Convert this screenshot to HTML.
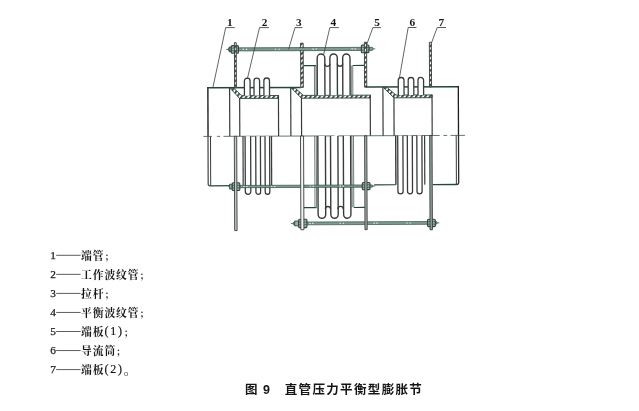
<!DOCTYPE html>
<html lang="zh"><head><meta charset="utf-8"><title>图 9 直管压力平衡型膨胀节</title>
<style>
html,body{margin:0;padding:0;background:#fff;}
body{width:639px;height:411px;overflow:hidden;position:relative;}
svg{position:absolute;left:0;top:0;display:block;will-change:transform;}
text{fill:#151515;}
.n{font-family:"Liberation Serif","Noto Serif CJK SC",serif;font-size:9.6px;font-weight:bold;}
.l{font-family:"Liberation Serif","Noto Serif CJK SC",serif;font-size:11px;}
.d{font-size:11.3px;stroke:#222;stroke-width:0.25px;}
.c{font-family:"Liberation Serif","Noto Serif CJK SC",serif;font-weight:700;font-size:10.8px;letter-spacing:0.9px;}
.p{font-weight:normal;stroke:#222;stroke-width:0.2px;font-size:12px;letter-spacing:1.8px;}
.s{font-size:9px;}
.o{font-size:13px;}
.cap{font-family:"Liberation Sans","Noto Sans CJK SC",sans-serif;font-size:12.5px;font-weight:bold;letter-spacing:1px;}
</style></head><body>
<svg width="639" height="411" viewBox="0 0 639 411"><defs>
<pattern id="hv" width="4" height="4" patternUnits="userSpaceOnUse" patternTransform="rotate(-35)">
<rect width="4" height="4" fill="#fff"/><rect width="4" height="2.1" fill="#3a4d47"/></pattern>
<pattern id="hh" width="4.6" height="4" patternUnits="userSpaceOnUse" patternTransform="skewX(-35)">
<rect width="4.6" height="4" fill="#fff"/><rect width="2.3" height="4" fill="#3a4d47"/></pattern>
</defs><g transform="rotate(-0.233 333 135.9)">
<line x1="203.30" y1="135.90" x2="212.00" y2="135.90" stroke="#4a5f58" stroke-width="0.85" />
<line x1="216.90" y1="135.90" x2="220.20" y2="135.90" stroke="#4a5f58" stroke-width="0.85" />
<line x1="223.50" y1="135.90" x2="334.50" y2="135.90" stroke="#4a5f58" stroke-width="0.85" />
<line x1="338.00" y1="135.90" x2="439.70" y2="135.90" stroke="#4a5f58" stroke-width="0.85" />
<line x1="443.50" y1="135.90" x2="447.20" y2="135.90" stroke="#4a5f58" stroke-width="0.85" />
<line x1="450.50" y1="135.90" x2="465.00" y2="135.90" stroke="#4a5f58" stroke-width="0.85" />
<line x1="207.40" y1="87.25" x2="301.00" y2="87.25" stroke="#23473e" stroke-width="1.5" />
<line x1="366.00" y1="87.25" x2="459.10" y2="87.25" stroke="#23473e" stroke-width="1.5" />
<line x1="208.05" y1="86.50" x2="208.05" y2="135.90" stroke="#383b3c" stroke-width="1.6" />
<line x1="458.50" y1="86.50" x2="458.50" y2="135.90" stroke="#1c1d1f" stroke-width="1.3" />
<line x1="229.80" y1="87.25" x2="229.80" y2="135.90" stroke="#383b3c" stroke-width="1.2" />
<path d="M230.40,87.85 L234.20,87.85 L241.80,95.30 L278.60,95.30 L278.60,98.10 L239.80,98.10 Z" stroke="#2e453e" stroke-width="0.9" fill="url(#hh)" />
<line x1="239.80" y1="97.60" x2="239.80" y2="135.90" stroke="#383b3c" stroke-width="1.2" />
<line x1="278.60" y1="95.00" x2="278.60" y2="135.90" stroke="#383b3c" stroke-width="1.2" />
<line x1="290.90" y1="87.25" x2="290.90" y2="135.90" stroke="#383b3c" stroke-width="1.2" />
<path d="M291.50,87.85 L295.30,87.85 L303.60,95.30 L370.40,95.30 L370.40,98.10 L301.60,98.10 Z" stroke="#2e453e" stroke-width="0.9" fill="url(#hh)" />
<line x1="301.60" y1="97.60" x2="301.60" y2="135.90" stroke="#383b3c" stroke-width="1.2" />
<line x1="370.40" y1="95.00" x2="370.40" y2="135.90" stroke="#383b3c" stroke-width="1.2" />
<line x1="383.10" y1="87.25" x2="383.10" y2="135.90" stroke="#383b3c" stroke-width="1.2" />
<path d="M383.70,87.85 L387.50,87.85 L396.10,95.30 L432.20,95.30 L432.20,98.10 L394.10,98.10 Z" stroke="#2e453e" stroke-width="0.9" fill="url(#hh)" />
<line x1="394.10" y1="97.60" x2="394.10" y2="135.90" stroke="#383b3c" stroke-width="1.2" />
<line x1="432.20" y1="95.00" x2="432.20" y2="135.90" stroke="#383b3c" stroke-width="1.2" />
<path d="M244.60,95.30 L244.60,80.60 A2.85,2.85 0 0 1 250.30,80.60 L250.30,95.30" stroke="#383b3c" stroke-width="1.3" fill="#fff" />
<path d="M254.20,95.30 L254.20,80.55 A2.80,2.80 0 0 1 259.80,80.55 L259.80,95.30" stroke="#383b3c" stroke-width="1.3" fill="#fff" />
<path d="M264.10,95.30 L264.10,80.55 A2.80,2.80 0 0 1 269.70,80.55 L269.70,95.30" stroke="#383b3c" stroke-width="1.3" fill="#fff" />
<path d="M398.50,95.30 L398.50,80.65 A2.85,2.85 0 0 1 404.20,80.65 L404.20,95.30" stroke="#383b3c" stroke-width="1.3" fill="#fff" />
<path d="M408.40,95.30 L408.40,80.60 A2.80,2.80 0 0 1 414.00,80.60 L414.00,95.30" stroke="#383b3c" stroke-width="1.3" fill="#fff" />
<path d="M418.20,95.30 L418.20,80.60 A2.80,2.80 0 0 1 423.80,80.60 L423.80,95.30" stroke="#383b3c" stroke-width="1.3" fill="#fff" />
<line x1="303.60" y1="65.60" x2="316.30" y2="65.60" stroke="#23473e" stroke-width="1.2" />
<line x1="353.00" y1="65.60" x2="364.60" y2="65.60" stroke="#23473e" stroke-width="1.2" />
<line x1="314.70" y1="65.60" x2="314.70" y2="95.20" stroke="#4a5f58" stroke-width="0.8" />
<line x1="316.20" y1="65.60" x2="316.20" y2="95.20" stroke="#4a5f58" stroke-width="0.8" />
<line x1="351.50" y1="65.60" x2="351.50" y2="95.20" stroke="#4a5f58" stroke-width="0.8" />
<line x1="353.00" y1="65.60" x2="353.00" y2="95.20" stroke="#4a5f58" stroke-width="0.8" />
<path d="M317.50,95.30 L317.50,57.80 A3.80,3.80 0 0 1 325.10,57.80 L325.10,95.30" stroke="#383b3c" stroke-width="1.4" fill="#fff" />
<path d="M330.20,95.30 L330.20,57.70 A3.70,3.70 0 0 1 337.60,57.70 L337.60,95.30" stroke="#383b3c" stroke-width="1.4" fill="#fff" />
<path d="M343.00,95.30 L343.00,57.65 A3.65,3.65 0 0 1 350.30,57.65 L350.30,95.30" stroke="#383b3c" stroke-width="1.4" fill="#fff" />
<path d="M325.10,63.75 A2.55,2.55 0 0 0 330.20,63.75" stroke="#383b3c" stroke-width="1.3" fill="none" />
<path d="M337.60,63.60 A2.70,2.70 0 0 0 343.00,63.60" stroke="#383b3c" stroke-width="1.3" fill="none" />
<path d="M208.0,135.9 L208.0,183.2 Q208.0,185.3 209.8,185.3" stroke="#4c5052" stroke-width="1.3" fill="none" />
<line x1="209.80" y1="185.30" x2="234.30" y2="185.30" stroke="#23473e" stroke-width="1.3" />
<line x1="210.50" y1="135.90" x2="210.50" y2="185.00" stroke="#383b3c" stroke-width="1.0" />
<path d="M458.5,135.9 L458.5,183.2 Q458.5,185.0 456.7,185.0" stroke="#2a2c2e" stroke-width="1.3" fill="none" />
<line x1="456.70" y1="185.00" x2="432.70" y2="185.00" stroke="#23473e" stroke-width="1.3" />
<line x1="456.20" y1="135.90" x2="456.20" y2="185.00" stroke="#383b3c" stroke-width="1.0" />
<line x1="374.00" y1="185.00" x2="395.70" y2="185.00" stroke="#23473e" stroke-width="1.2" />
<line x1="243.00" y1="135.90" x2="243.00" y2="185.00" stroke="#383b3c" stroke-width="1.2" />
<line x1="271.50" y1="135.90" x2="271.50" y2="185.00" stroke="#383b3c" stroke-width="1.2" />
<path d="M245.10,135.90 L245.10,191.25 A2.75,2.75 0 0 0 250.60,191.25 L250.60,135.90" stroke="#383b3c" stroke-width="1.3" fill="#fff" />
<path d="M255.70,135.90 L255.70,191.65 A2.35,2.35 0 0 0 260.40,191.65 L260.40,135.90" stroke="#383b3c" stroke-width="1.3" fill="#fff" />
<path d="M265.00,135.90 L265.00,191.70 A2.30,2.30 0 0 0 269.60,191.70 L269.60,135.90" stroke="#383b3c" stroke-width="1.3" fill="#fff" />
<line x1="395.70" y1="135.90" x2="395.70" y2="185.00" stroke="#383b3c" stroke-width="1.4" />
<line x1="424.60" y1="135.90" x2="424.60" y2="185.00" stroke="#383b3c" stroke-width="1.2" />
<path d="M397.70,135.90 L397.70,191.50 A2.60,2.60 0 0 0 402.90,191.50 L402.90,135.90" stroke="#383b3c" stroke-width="1.3" fill="#fff" />
<path d="M407.30,135.90 L407.30,191.60 A2.50,2.50 0 0 0 412.30,191.60 L412.30,135.90" stroke="#383b3c" stroke-width="1.3" fill="#fff" />
<path d="M416.80,135.90 L416.80,191.55 A2.55,2.55 0 0 0 421.90,191.55 L421.90,135.90" stroke="#383b3c" stroke-width="1.3" fill="#fff" />
<line x1="303.20" y1="207.60" x2="316.30" y2="207.60" stroke="#23473e" stroke-width="1.2" />
<line x1="353.50" y1="207.60" x2="364.60" y2="207.60" stroke="#23473e" stroke-width="1.2" />
<line x1="314.70" y1="135.90" x2="314.70" y2="207.30" stroke="#4a5f58" stroke-width="0.8" />
<line x1="316.30" y1="135.90" x2="316.30" y2="207.30" stroke="#4a5f58" stroke-width="0.8" />
<line x1="351.90" y1="135.90" x2="351.90" y2="207.30" stroke="#4a5f58" stroke-width="0.8" />
<line x1="353.50" y1="135.90" x2="353.50" y2="207.30" stroke="#4a5f58" stroke-width="0.8" />
<path d="M317.80,135.90 L317.80,214.45 A3.80,3.80 0 0 0 325.40,214.45 L325.40,135.90" stroke="#383b3c" stroke-width="1.4" fill="#fff" />
<path d="M330.50,135.90 L330.50,214.55 A3.70,3.70 0 0 0 337.90,214.55 L337.90,135.90" stroke="#383b3c" stroke-width="1.4" fill="#fff" />
<path d="M343.30,135.90 L343.30,214.60 A3.65,3.65 0 0 0 350.60,214.60 L350.60,135.90" stroke="#383b3c" stroke-width="1.4" fill="#fff" />
<path d="M325.10,209.05 A2.55,2.55 0 0 1 330.20,209.05" stroke="#383b3c" stroke-width="1.3" fill="none" />
<path d="M337.60,209.20 A2.70,2.70 0 0 1 343.00,209.20" stroke="#383b3c" stroke-width="1.3" fill="none" />
<line x1="226.40" y1="49.00" x2="375.60" y2="49.00" stroke="#4a5f58" stroke-width="0.8" />
<rect x="228.60" y="47.45" width="144.80" height="3.10" stroke="#23473e" stroke-width="0.65" fill="#82998f" rx="1.2"/>
<rect x="242.90" y="48.45" width="1.3" height="1.1" fill="#e8efec"/>
<rect x="246.20" y="48.45" width="1.3" height="1.1" fill="#e8efec"/>
<rect x="275.20" y="48.45" width="1.3" height="1.1" fill="#e8efec"/>
<rect x="278.90" y="48.45" width="1.3" height="1.1" fill="#e8efec"/>
<rect x="312.90" y="48.45" width="1.3" height="1.1" fill="#e8efec"/>
<rect x="315.90" y="48.45" width="1.3" height="1.1" fill="#e8efec"/>
<rect x="351.90" y="48.45" width="1.3" height="1.1" fill="#e8efec"/>
<rect x="354.90" y="48.45" width="1.3" height="1.1" fill="#e8efec"/>
<line x1="228.20" y1="186.20" x2="375.00" y2="186.20" stroke="#4a5f58" stroke-width="0.8" />
<rect x="230.40" y="185.05" width="142.40" height="2.30" stroke="#23473e" stroke-width="0.65" fill="#82998f" rx="1.2"/>
<rect x="243.20" y="185.65" width="1.3" height="1.1" fill="#e8efec"/>
<rect x="246.20" y="185.65" width="1.3" height="1.1" fill="#e8efec"/>
<rect x="270.90" y="185.65" width="1.3" height="1.1" fill="#e8efec"/>
<rect x="273.90" y="185.65" width="1.3" height="1.1" fill="#e8efec"/>
<rect x="309.40" y="185.65" width="1.3" height="1.1" fill="#e8efec"/>
<rect x="312.40" y="185.65" width="1.3" height="1.1" fill="#e8efec"/>
<rect x="339.40" y="185.65" width="1.3" height="1.1" fill="#e8efec"/>
<rect x="342.40" y="185.65" width="1.3" height="1.1" fill="#e8efec"/>
<line x1="290.60" y1="223.30" x2="439.00" y2="223.30" stroke="#4a5f58" stroke-width="0.8" />
<rect x="292.80" y="221.90" width="144.00" height="2.80" stroke="#23473e" stroke-width="0.65" fill="#82998f" rx="1.2"/>
<rect x="309.00" y="222.75" width="1.3" height="1.1" fill="#e8efec"/>
<rect x="311.80" y="222.75" width="1.3" height="1.1" fill="#e8efec"/>
<rect x="339.20" y="222.75" width="1.3" height="1.1" fill="#e8efec"/>
<rect x="342.40" y="222.75" width="1.3" height="1.1" fill="#e8efec"/>
<rect x="373.20" y="222.75" width="1.3" height="1.1" fill="#e8efec"/>
<rect x="376.00" y="222.75" width="1.3" height="1.1" fill="#e8efec"/>
<rect x="406.00" y="222.75" width="1.3" height="1.1" fill="#e8efec"/>
<rect x="409.20" y="222.75" width="1.3" height="1.1" fill="#e8efec"/>
<rect x="229.60" y="46.60" width="2.00" height="4.80" stroke="#2e453e" stroke-width="0.9" fill="#9fb2aa" />
<rect x="231.60" y="45.20" width="7.20" height="7.60" stroke="#2e453e" stroke-width="1.1" fill="#9fb2aa" rx="1"/>
<line x1="231.60" y1="47.70" x2="238.80" y2="47.70" stroke="#23473e" stroke-width="0.6" />
<line x1="231.60" y1="50.30" x2="238.80" y2="50.30" stroke="#23473e" stroke-width="0.6" />
<rect x="361.70" y="45.20" width="7.60" height="7.60" stroke="#2e453e" stroke-width="1.1" fill="#9fb2aa" rx="1"/>
<line x1="361.70" y1="47.70" x2="369.30" y2="47.70" stroke="#23473e" stroke-width="0.6" />
<line x1="361.70" y1="50.30" x2="369.30" y2="50.30" stroke="#23473e" stroke-width="0.6" />
<rect x="229.40" y="183.80" width="2.60" height="4.80" stroke="#2e453e" stroke-width="0.9" fill="#9fb2aa" />
<rect x="232.00" y="182.30" width="7.60" height="7.80" stroke="#2e453e" stroke-width="1.1" fill="#9fb2aa" rx="1"/>
<line x1="232.00" y1="184.90" x2="239.60" y2="184.90" stroke="#23473e" stroke-width="0.6" />
<line x1="232.00" y1="187.50" x2="239.60" y2="187.50" stroke="#23473e" stroke-width="0.6" />
<rect x="362.10" y="182.60" width="7.70" height="7.20" stroke="#2e453e" stroke-width="1.1" fill="#9fb2aa" rx="1"/>
<line x1="362.10" y1="184.90" x2="369.80" y2="184.90" stroke="#23473e" stroke-width="0.6" />
<line x1="362.10" y1="187.50" x2="369.80" y2="187.50" stroke="#23473e" stroke-width="0.6" />
<rect x="294.30" y="220.90" width="4.00" height="4.80" stroke="#2e453e" stroke-width="0.9" fill="#9fb2aa" />
<rect x="298.30" y="219.10" width="8.30" height="8.40" stroke="#2e453e" stroke-width="1.1" fill="#9fb2aa" rx="1"/>
<line x1="298.30" y1="222.00" x2="306.60" y2="222.00" stroke="#23473e" stroke-width="0.6" />
<line x1="298.30" y1="224.60" x2="306.60" y2="224.60" stroke="#23473e" stroke-width="0.6" />
<rect x="427.20" y="219.60" width="7.80" height="7.40" stroke="#2e453e" stroke-width="1.1" fill="#9fb2aa" rx="1"/>
<line x1="427.20" y1="222.00" x2="435.00" y2="222.00" stroke="#23473e" stroke-width="0.6" />
<line x1="427.20" y1="224.60" x2="435.00" y2="224.60" stroke="#23473e" stroke-width="0.6" />
<rect x="234.80" y="42.30" width="1.80" height="44.95" stroke="#383b3c" stroke-width="0.9" fill="url(#hv)" />
<rect x="234.30" y="135.90" width="2.40" height="94.30" stroke="#383b3c" stroke-width="0.9" fill="#c4cac8" />
<rect x="300.95" y="43.05" width="2.60" height="44.20" stroke="#383b3c" stroke-width="0.9" fill="url(#hv)" />
<rect x="300.50" y="135.90" width="3.05" height="93.70" stroke="#383b3c" stroke-width="0.9" fill="#f4f6f5" />
<rect x="364.75" y="42.40" width="2.20" height="44.85" stroke="#383b3c" stroke-width="0.9" fill="url(#hv)" />
<rect x="364.60" y="135.90" width="2.20" height="93.90" stroke="#383b3c" stroke-width="0.9" fill="#a9b0ae" />
<rect x="429.75" y="42.70" width="2.00" height="44.55" stroke="#383b3c" stroke-width="0.9" fill="url(#hv)" />
<rect x="429.65" y="135.90" width="2.40" height="94.30" stroke="#383b3c" stroke-width="0.9" fill="#8fa39b" />
<rect x="299.50" y="47.45" width="5.50" height="3.10" stroke="none" stroke-width="0" fill="#82998f" />
<line x1="299.50" y1="47.45" x2="305.00" y2="47.45" stroke="#23473e" stroke-width="0.65" />
<line x1="299.50" y1="50.55" x2="305.00" y2="50.55" stroke="#23473e" stroke-width="0.65" />
</g>
<line x1="225.70" y1="27.60" x2="234.80" y2="27.60" stroke="#3a3f40" stroke-width="0.85" />
<line x1="225.70" y1="27.60" x2="213.00" y2="87.00" stroke="#3a3f40" stroke-width="0.8" />
<text transform="translate(229.8,25.6) scale(1.18,1)" class="n" text-anchor="middle">1</text>
<line x1="259.50" y1="27.60" x2="269.00" y2="27.60" stroke="#3a3f40" stroke-width="0.85" />
<line x1="259.50" y1="27.60" x2="247.30" y2="79.00" stroke="#3a3f40" stroke-width="0.8" />
<text transform="translate(264.5,25.6) scale(1.18,1)" class="n" text-anchor="middle">2</text>
<line x1="295.00" y1="27.60" x2="302.40" y2="27.60" stroke="#3a3f40" stroke-width="0.85" />
<line x1="295.00" y1="27.60" x2="288.60" y2="49.30" stroke="#3a3f40" stroke-width="0.8" />
<text transform="translate(298.8,25.6) scale(1.18,1)" class="n" text-anchor="middle">3</text>
<line x1="329.80" y1="27.60" x2="338.90" y2="27.60" stroke="#3a3f40" stroke-width="0.85" />
<line x1="329.80" y1="27.60" x2="323.50" y2="55.10" stroke="#3a3f40" stroke-width="0.8" />
<text transform="translate(333.4,25.6) scale(1.18,1)" class="n" text-anchor="middle">4</text>
<line x1="372.90" y1="27.60" x2="380.90" y2="27.60" stroke="#3a3f40" stroke-width="0.85" />
<line x1="372.90" y1="27.60" x2="366.30" y2="45.70" stroke="#3a3f40" stroke-width="0.8" />
<text transform="translate(377.0,25.6) scale(1.18,1)" class="n" text-anchor="middle">5</text>
<line x1="408.20" y1="27.50" x2="416.50" y2="27.50" stroke="#3a3f40" stroke-width="0.85" />
<line x1="408.20" y1="27.50" x2="399.50" y2="77.50" stroke="#3a3f40" stroke-width="0.8" />
<text transform="translate(412.3,25.5) scale(1.18,1)" class="n" text-anchor="middle">6</text>
<line x1="437.20" y1="27.50" x2="446.00" y2="27.50" stroke="#3a3f40" stroke-width="0.85" />
<line x1="437.20" y1="27.50" x2="431.40" y2="43.20" stroke="#3a3f40" stroke-width="0.8" />
<text transform="translate(441.3,25.5) scale(1.18,1)" class="n" text-anchor="middle">7</text>
<text x="50.3" y="258.9" class="l d">1</text>
<line x1="56.20" y1="255.30" x2="80.60" y2="255.30" stroke="#333" stroke-width="0.8" />
<text x="81" y="259.9" class="l c">端管<tspan class="s">；</tspan></text>
<text x="50.3" y="277.9" class="l d">2</text>
<line x1="56.20" y1="274.35" x2="80.60" y2="274.35" stroke="#333" stroke-width="0.8" />
<text x="81" y="278.9" class="l c">工作波纹管<tspan class="s">；</tspan></text>
<text x="50.3" y="297.0" class="l d">3</text>
<line x1="56.20" y1="293.40" x2="80.60" y2="293.40" stroke="#333" stroke-width="0.8" />
<text x="81" y="298.0" class="l c">拉杆<tspan class="s">；</tspan></text>
<text x="50.3" y="316.0" class="l d">4</text>
<line x1="56.20" y1="312.45" x2="80.60" y2="312.45" stroke="#333" stroke-width="0.8" />
<text x="81" y="317.0" class="l c">平衡波纹管<tspan class="s">；</tspan></text>
<text x="50.3" y="335.1" class="l d">5</text>
<line x1="56.20" y1="331.50" x2="80.60" y2="331.50" stroke="#333" stroke-width="0.8" />
<text x="81" y="336.1" class="l c">端板<tspan class="p" dy="-0.8">(1)</tspan><tspan class="s" dy="0.8">；</tspan></text>
<text x="50.3" y="354.1" class="l d">6</text>
<line x1="56.20" y1="350.55" x2="80.60" y2="350.55" stroke="#333" stroke-width="0.8" />
<text x="81" y="355.1" class="l c">导流筒<tspan class="s">；</tspan></text>
<text x="50.3" y="373.2" class="l d">7</text>
<line x1="56.20" y1="369.60" x2="80.60" y2="369.60" stroke="#333" stroke-width="0.8" />
<text x="81" y="374.2" class="l c">端板<tspan class="p" dy="-0.8">(2)</tspan><tspan class="o" dy="0.8">。</tspan></text>
<text x="245" y="394.2" class="cap">图 9</text>
<text x="284.7" y="394.2" class="cap" style="letter-spacing:1.35px">直管压力平衡型膨胀节</text></svg>
</body></html>
